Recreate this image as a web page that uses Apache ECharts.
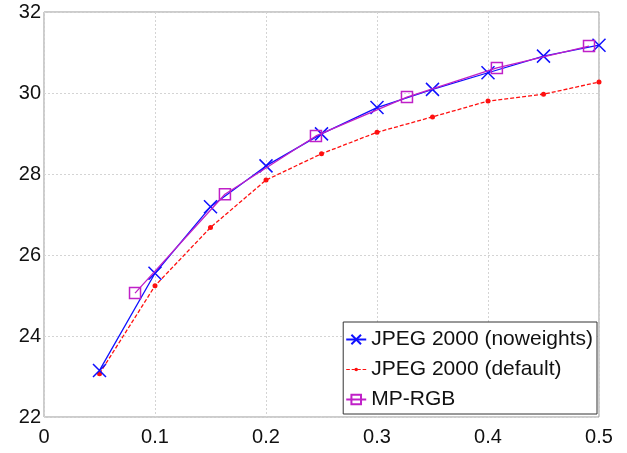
<!DOCTYPE html>
<html lang="en">
<head>
    <meta charset="UTF-8">
    <title>JPEG 2000 vs MP-RGB</title>
    <script src="https://cdn.jsdelivr.net/npm/echarts@6/dist/echarts.min.js"></script>
    <style>
        html, body { margin: 0; padding: 0; background: #fff; }
    </style>
</head>
<body>
<div id="chartmain" style="width: 627px; height: 453px;"></div>
<script type="text/javascript">
    // data
    var rateJpeg = [0.05, 0.1, 0.15, 0.2, 0.25, 0.3, 0.35, 0.4, 0.45, 0.5];
    var psnrNoweights = [23.15, 25.55, 27.19, 28.20, 28.99, 29.64, 30.09, 30.50, 30.91, 31.18];
    var psnrDefault = [23.07, 25.24, 26.68, 27.85, 28.50, 29.03, 29.41, 29.80, 29.97, 30.27];
    var rateMp = [0.082, 0.163, 0.245, 0.327, 0.408, 0.491];
    var psnrMp = [25.06, 27.50, 28.94, 29.90, 30.62, 31.16];
    var names = ['JPEG 2000 (noweights)', 'JPEG 2000 (default)', 'MP-RGB'];

    function pairs(xs, ys) {
        var out = [];
        for (var i = 0; i < xs.length; i++) {
            out.push([xs[i], ys[i]]);
        }
        return out;
    }

    var font = 'Liberation Sans, Helvetica, Arial, sans-serif';
    var crossPath = 'path://M0,0L10,10M10,0L0,10';
    // dashed line with a small dot, for the legend
    var dashDotIcon = 'path://M0,5h4v1h-4z M6,5h3v1h-3z M13,5h3v1h-3z M18,5h4v1h-4z' +
        ' M9,5.5a2,2 0 1,0 4,0a2,2 0 1,0 -4,0z';

    var myChart = echarts.init(document.getElementById('chartmain'));
    var option = {
        animation: false,
        backgroundColor: '#fff',
        grid: {
            left: 44, right: 28, top: 12, bottom: 36,
            show: true, borderColor: '#999', borderWidth: 1,
            backgroundColor: 'transparent'
        },
        legend: {
            orient: 'vertical',
            right: 30, bottom: 39,
            data: [names[0], { name: names[1], icon: dashDotIcon }, names[2]],
            backgroundColor: '#fff',
            borderColor: '#333',
            borderWidth: 1,
            borderRadius: 0,
            padding: [7, 4, 4, 2],
            itemWidth: 20,
            itemHeight: 12,
            itemGap: 9,
            textStyle: { fontFamily: font, fontSize: 21, color: '#111' }
        },
        xAxis: {
            type: 'value',
            min: 0, max: 0.5, interval: 0.1,
            axisLine: { show: false },
            axisTick: { show: false },
            axisLabel: { fontFamily: font, fontSize: 20, color: '#111', margin: 10 },
            splitLine: { show: true, lineStyle: { color: '#d4d4d4', type: [2, 2], width: 1 } }
        },
        yAxis: {
            type: 'value',
            min: 22, max: 32, interval: 2,
            axisLine: { show: false },
            axisTick: { show: false },
            axisLabel: { fontFamily: font, fontSize: 20, color: '#111', margin: 3 },
            splitLine: { show: true, lineStyle: { color: '#d4d4d4', type: [2, 2], width: 1 } }
        },
        series: [
            {
                name: names[0],
                type: 'line',
                data: pairs(rateJpeg, psnrNoweights),
                symbol: crossPath,
                symbolSize: 13,
                showAllSymbol: true,
                lineStyle: { color: '#1010ff', width: 1.3 },
                itemStyle: { color: '#1010ff', borderColor: '#1010ff', borderWidth: 1.5 },
                z: 3
            },
            {
                name: names[1],
                type: 'line',
                data: pairs(rateJpeg, psnrDefault),
                symbol: 'circle',
                symbolSize: 5,
                lineStyle: { color: '#ff1010', width: 1.3, type: [4, 2] },
                itemStyle: { color: '#ff1010' },
                z: 2
            },
            {
                name: names[2],
                type: 'line',
                data: pairs(rateMp, psnrMp),
                symbol: 'rect',
                symbolSize: 11,
                lineStyle: { color: '#c020c8', width: 1.3 },
                itemStyle: { color: 'rgba(0,0,0,0)', borderColor: '#c020c8', borderWidth: 1.5 },
                z: 4
            }
        ]
    };
    myChart.setOption(option);
</script>
</body>
</html>
